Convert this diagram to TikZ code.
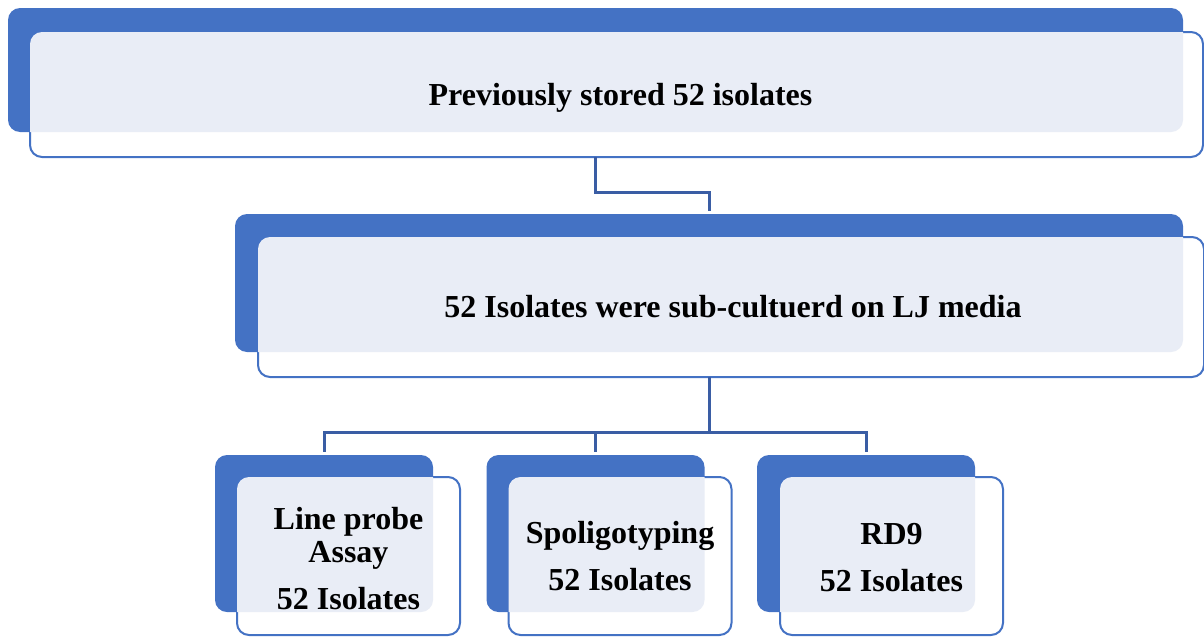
\documentclass[tikz,border=0pt]{standalone}
\usepackage{fontspec}
\setmainfont{Liberation Serif}
\usetikzlibrary{positioning}
\definecolor{darkbox}{RGB}{68,114,196}
\definecolor{lightbox}{RGB}{233,237,246}
\definecolor{linkblue}{RGB}{58,93,164}
\tikzset{
  backbox/.style = {
    rectangle, rounded corners=12pt, fill=darkbox,
    inner sep=0pt, outer sep=0pt
  },
  frontbox/.style = {
    rectangle, rounded corners=12pt, fill=white, draw=darkbox,
    line width=2pt, inner sep=0pt, outer sep=0pt
  },
  boxtext/.style = {
    font=\bfseries\fontsize{32}{33}\selectfont, align=center
  },
  link/.style = {draw=linkblue, line width=3pt}
}
% light part where the two boxes overlap
\newcommand{\overlap}[2]{%
  \begin{scope}
    \clip[rounded corners=12pt] (#2.north west) rectangle (#2.south east);
    \fill[lightbox, rounded corners=12pt] (#1.north west) rectangle (#1.south east);
  \end{scope}}

\begin{document}
\begin{tikzpicture}[x=1pt,y=-1pt]
  \useasboundingbox (0,0) rectangle (1204,637);
  % top
  \node[backbox, minimum width=1175pt, minimum height=124pt] (stored back) at (595.5,70) {};
  \node[frontbox, minimum width=1173pt, minimum height=125pt] (stored front) at (616.5,94.5) {};
  \overlap{stored back}{stored front}
  \node[boxtext, xshift=4pt, yshift=-3pt] (stored) at (stored front) {Previously stored 52 isolates};
  % middle
  \node[backbox, minimum width=948pt, minimum height=138pt] (culture back) at (709,283) {};
  \node[frontbox, minimum width=946pt, minimum height=140pt] (culture front) at (731,307) {};
  \overlap{culture back}{culture front}
  \node[boxtext, xshift=2pt] (culture) at (culture front) {52 Isolates were sub-cultuerd on LJ media};
  % bottom row
  \node[backbox, minimum width=218pt, minimum height=157pt] (lpa back) at (324,533.5) {};
  \node[frontbox, minimum width=223pt, minimum height=158pt] (lpa front) at (348.5,556) {};
  \overlap{lpa back}{lpa front}
  \node[boxtext, yshift=-3pt] (lpa) at (lpa front) {Line probe\\Assay\\[14pt]52 Isolates};
  \node[backbox, minimum width=218pt, minimum height=157pt] (spol back) at (595.5,533.5) {};
  \node[frontbox, minimum width=223pt, minimum height=158pt] (spol front) at (620,556) {};
  \overlap{spol back}{spol front}
  \node[boxtext] (spol) at (spol front) {Spoligotyping\\[14pt]52 Isolates};
  \node[backbox, minimum width=218pt, minimum height=157pt] (rd back) at (866,533.5) {};
  \node[frontbox, minimum width=223pt, minimum height=158pt] (rd front) at (891.5,556) {};
  \overlap{rd back}{rd front}
  \node[boxtext, yshift=-2pt] (rd) at (rd front) {RD9\\[14pt]52 Isolates};
  % connectors
  \draw[link, shorten >=3pt] (stored back.south |- stored front.south) -- ++(0,35) -| (culture back.north);
  \draw[link] (culture back.south |- culture front.south) -- ++(0,55) coordinate (fork);
  \draw[link, shorten >=3pt] (fork) -| (lpa back.north);
  \draw[link, shorten >=3pt] (fork) -| (spol back.north);
  \draw[link, shorten >=3pt] (fork) -| (rd back.north);
\end{tikzpicture}
\end{document}
